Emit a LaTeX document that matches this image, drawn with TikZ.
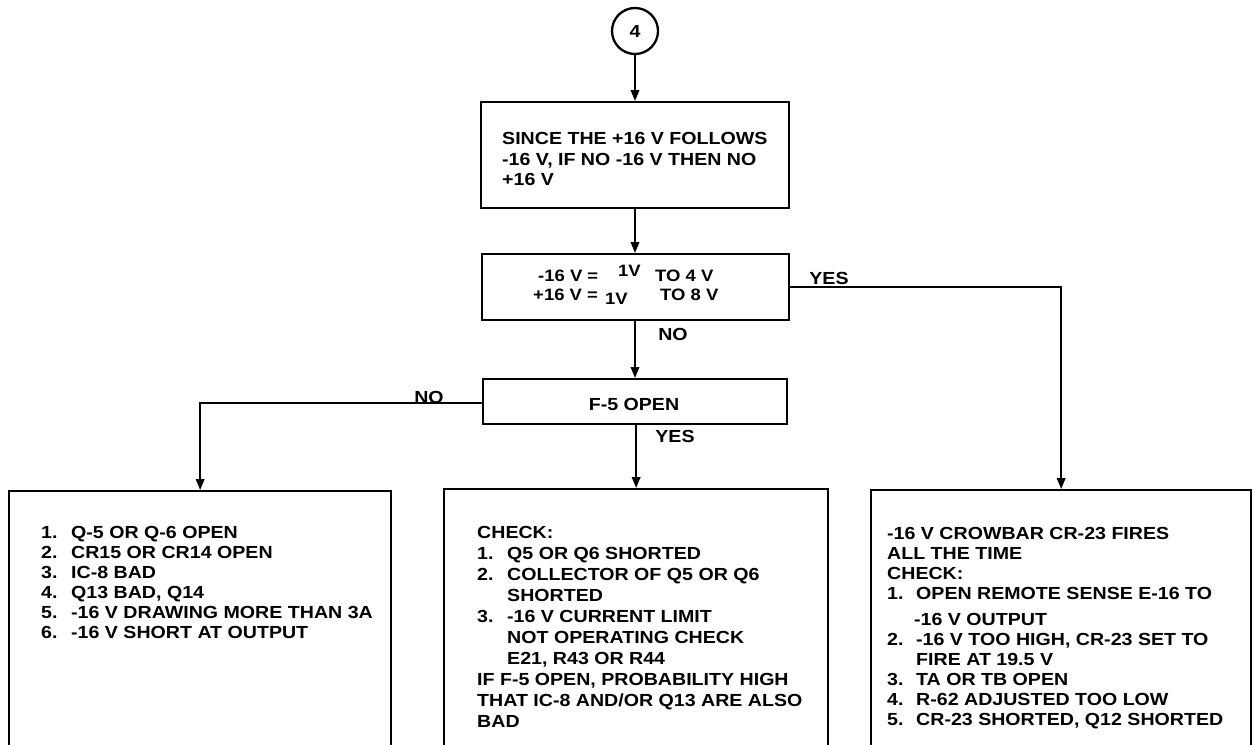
\documentclass[tikz,border=0pt]{standalone}
\usepackage{fontspec}
\setmainfont{Liberation Sans}[FakeStretch=1.12]
\usetikzlibrary{arrows.meta}
\begin{document}
\begin{tikzpicture}[x=1pt,y=-1pt,
  box/.style={draw,line width=2.3pt,rectangle,inner sep=0pt},
  con/.style={line width=2pt,-{Triangle[length=11pt,width=8.5pt]}},
  txt/.style={inner sep=0pt,align=left,anchor=north west,font=\bfseries\fontsize{17.5}{20}\selectfont},
  lbl/.style={inner sep=0pt,anchor=base,font=\bfseries\fontsize{17.5}{20}\selectfont},
  sm/.style={inner sep=0pt,anchor=base west,font=\bfseries\fontsize{16.5}{20}\selectfont}]
\useasboundingbox (0,0) rectangle (1252,744);
\clip (0,0) rectangle (1252,744);

% shapes
\node[draw,circle,line width=2.3pt,minimum size=46pt,inner sep=0pt,font=\bfseries\fontsize{17.5}{20}\selectfont] (start) at (635,31) {4};
\node[box,minimum width=308pt,minimum height=106pt,anchor=north west] (b1) at (480,101) {};
\node[box,minimum width=307pt,minimum height=66pt,anchor=north west] (b2) at (481,253) {};
\node[box,minimum width=304pt,minimum height=45pt,anchor=north west] (f5) at (482,378) {};
\node[box,minimum width=382pt,minimum height=300pt,anchor=north west] (lb) at (8,490) {};
\node[box,minimum width=384pt,minimum height=300pt,anchor=north west] (mb) at (443,488) {};
\node[box,minimum width=380pt,minimum height=300pt,anchor=north west] (rb) at (870,489) {};

\coordinate (nol) at (0,403);
\coordinate (yr) at (0,287);

% connectors
\draw[con] (start.south) -- (b1.north -| start.south);
\draw[con] (b1.south -| start.south) -- (b2.north -| start.south);
\draw[con] (b2.south -| start.south) -- (f5.north -| start.south);
\draw[con] (f5.south -| mb.north) -- (mb.north);
\draw[con] (f5.west |- nol) -- (nol -| lb.north) -- (lb.north);
\draw[con] (b2.east |- yr) -- (yr -| rb.north) -- (rb.north);

% labels
\node[lbl] (noA) at (673,340) {NO};
\node[lbl] (yesA) at (829,284) {YES};
\node[lbl] (noB) at (429,403) {NO};
\node[lbl] (yesB) at (675,442) {YES};

% box texts
\node[txt,font=\bfseries\fontsize{17.5}{20.5}\selectfont] (t1) at (502,132.5)
  {SINCE THE +16 V FOLLOWS\\-16 V, IF NO -16 V THEN NO\\+16 V};

\node[sm] (l1a) at (538,281) {-16 V =};
\node[sm] (l1b) at (618,276) {1V};
\node[sm] (l1c) at (655,281) {TO 4 V};
\node[sm] (l2a) at (533,300) {+16 V =};
\node[sm] (l2b) at (605,304) {1V};
\node[sm] (l2c) at (660,300) {TO 8 V};

\node[lbl] (f5t) at (634,410) {F-5 OPEN};

\node[txt] (lt) at (41,526.5)
  {\makebox[30pt][l]{1.}Q-5 OR Q-6 OPEN\\
   \makebox[30pt][l]{2.}CR15 OR CR14 OPEN\\
   \makebox[30pt][l]{3.}IC-8 BAD\\
   \makebox[30pt][l]{4.}Q13 BAD, Q14\\
   \makebox[30pt][l]{5.}-16 V DRAWING MORE THAN 3A\\
   \makebox[30pt][l]{6.}-16 V SHORT AT OUTPUT};

\node[txt,font=\bfseries\fontsize{17.5}{21}\selectfont] (mt) at (477,526.5)
  {CHECK:\\
   \makebox[30pt][l]{1.}Q5 OR Q6 SHORTED\\
   \makebox[30pt][l]{2.}COLLECTOR OF Q5 OR Q6\\
   \hspace*{30pt}SHORTED\\
   \makebox[30pt][l]{3.}-16 V CURRENT LIMIT\\
   \hspace*{30pt}NOT OPERATING CHECK\\
   \hspace*{30pt}E21, R43 OR R44\\
   IF F-5 OPEN, PROBABILITY HIGH\\
   THAT IC-8 AND/OR Q13 ARE ALSO\\
   BAD};

\node[txt] (rt) at (887,527.5)
  {-16 V CROWBAR CR-23 FIRES\\
   ALL THE TIME\\
   CHECK:\\
   \makebox[29pt][l]{1.}OPEN REMOTE SENSE E-16 TO\\[6pt]
   \hspace*{27pt}-16 V OUTPUT\\
   \makebox[29pt][l]{2.}-16 V TOO HIGH, CR-23 SET TO\\
   \hspace*{29pt}FIRE AT 19.5 V\\
   \makebox[29pt][l]{3.}TA OR TB OPEN\\
   \makebox[29pt][l]{4.}R-62 ADJUSTED TOO LOW\\
   \makebox[29pt][l]{5.}CR-23 SHORTED, Q12 SHORTED};
\end{tikzpicture}
\end{document}
